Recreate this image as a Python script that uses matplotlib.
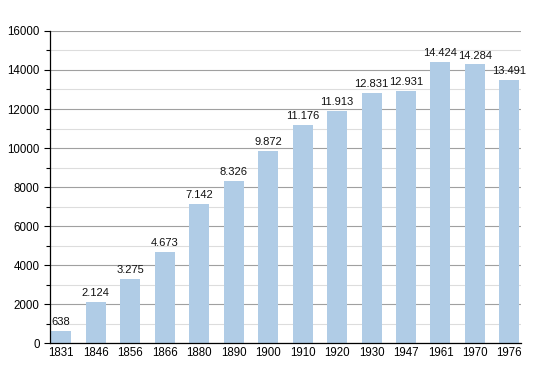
import matplotlib
matplotlib.use("Agg")
import matplotlib.pyplot as plt
import numpy as np
from matplotlib.ticker import MultipleLocator

years = ["1831", "1846", "1856", "1866", "1880", "1890", "1900",
         "1910", "1920", "1930", "1947", "1961", "1970", "1976"]
population = [638, 2124, 3275, 4673, 7142, 8326, 9872,
              11176, 11913, 12831, 12931, 14424, 14284, 13491]
bar_labels = ["638", "2.124", "3.275", "4.673", "7.142", "8.326", "9.872",
              "11.176", "11.913", "12.831", "12.931", "14.424", "14.284", "13.491"]

plt.rcParams["font.family"] = ["Liberation Sans", "DejaVu Sans"]

fig = plt.figure(figsize=(5.5, 3.73), dpi=100)
ax = fig.add_axes([0.091, 0.080, 0.856, 0.837])

x = np.arange(len(years))
ax.bar(x, population, width=0.58, color="#b0cce6", zorder=2)

for xi, v, lab in zip(x, population, bar_labels):
    ax.text(xi, v + 200, lab, ha="center", va="bottom", fontsize=8.0, color="#111111", zorder=3)

ax.set_xlim(-0.32, 13.33)
ax.set_ylim(0, 16000)
ax.set_xticks(x)
ax.set_xticklabels(years, fontsize=8.3)
ax.yaxis.set_major_locator(MultipleLocator(2000))
ax.yaxis.set_minor_locator(MultipleLocator(1000))
ax.tick_params(axis="y", labelsize=8.3, length=4, width=0.8)
ax.tick_params(axis="y", which="minor", length=3, width=0.8)
ax.tick_params(axis="x", length=0, pad=3)

ax.grid(axis="y", which="major", color="#a0a0a0", linewidth=0.8, zorder=0)
ax.grid(axis="y", which="minor", color="#dddddd", linewidth=0.8, zorder=0)
ax.set_axisbelow(True)

for side in ("top", "right"):
    ax.spines[side].set_visible(False)
ax.spines["left"].set_linewidth(0.9)
ax.spines["bottom"].set_linewidth(0.9)

fig.savefig("out.png", dpi=100)
